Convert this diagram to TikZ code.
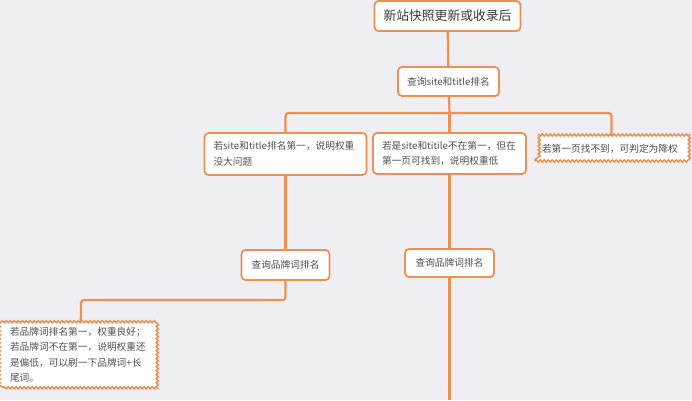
\documentclass[tikz,border=0pt]{standalone}
\usepackage{fontspec}
\newfontfamily\cjk{Noto Sans CJK SC}
\usetikzlibrary{decorations.pathmorphing}
\definecolor{bg}{HTML}{EFEEF3}
\definecolor{branch}{HTML}{EF9053}
\definecolor{ink}{HTML}{505050}
\begin{document}
\begin{tikzpicture}[x=1pt, y=-1pt]
        \tikzstyle{topic}=[draw=branch, line width=1.8pt, fill=white, rectangle, rounded corners=4pt, inner xsep=9pt, inner ysep=5pt, text=ink, font=\cjk\fontsize{9.7}{15.5}\selectfont, align=left]
        \tikzstyle{cloud}=[topic, rounded corners=0pt, line width=1.5pt, decorate, decoration={snake, segment length=4pt, amplitude=1pt}]
        \tikzstyle{link}=[draw=branch, line width=2.2pt, rounded corners=3pt]
        \useasboundingbox[fill=bg] (0,0) rectangle (692,400);

        \node[topic, minimum width=135pt, minimum height=30pt, align=center, text=black!78, font=\cjk\fontsize{12.8}{15}\selectfont] (root) at (447.5, 16) {新站快照更新或收录后};
        \node[topic, minimum width=101pt, minimum height=29pt, align=center] (query) at (448.5, 81.5) {查询site和title排名};
        \node[topic, text width=144pt, minimum height=42pt] (rank-ok) at (285.5, 154) {若site和title排名第一，说明权重\\没大问题};
        \node[topic, text width=135pt, minimum height=41pt] (rank-low) at (449.5, 153.5) {若是site和titile不在第一，但在\\第一页可找到，说明权重低};
        \node[cloud, text width=139pt, minimum height=25pt, inner xsep=7pt] (rank-none) at (611.5, 148.5) {若第一页找不到，可判定为降权};
        \node[topic, minimum width=88pt, minimum height=30pt, align=center] (brand-left) at (285.5, 265) {查询品牌词排名};
        \node[topic, minimum width=89pt, minimum height=28pt, align=center] (brand-mid) at (449.5, 263) {查询品牌词排名};
        \node[cloud, text width=141pt, minimum height=64pt, inner xsep=7pt] (brand-note) at (80.5, 355) {若品牌词排名第一，权重良好；\\若品牌词不在第一，说明权重还\\是偏低，可以刷一下品牌词+长\\尾词。};

        \coordinate (split) at (449.5, 113);
        \coordinate (turn) at (81, 300);
        \coordinate (tail) at (449.5, 400);

        \draw[link] (root) -- (query);
        \draw[link] (query) -- (split);
        \draw[link] (split) -| (rank-ok);
        \draw[link] (split) -- (rank-low);
        \draw[link] (split) -| (rank-none);
        \draw[link] (rank-ok) -- (brand-left);
        \draw[link] (rank-low) -- (brand-mid);
        \draw[link] (brand-left) |- (turn) -- (brand-note);
        \draw[link] (brand-mid) -- (tail);
    \end{tikzpicture}
\end{document}
